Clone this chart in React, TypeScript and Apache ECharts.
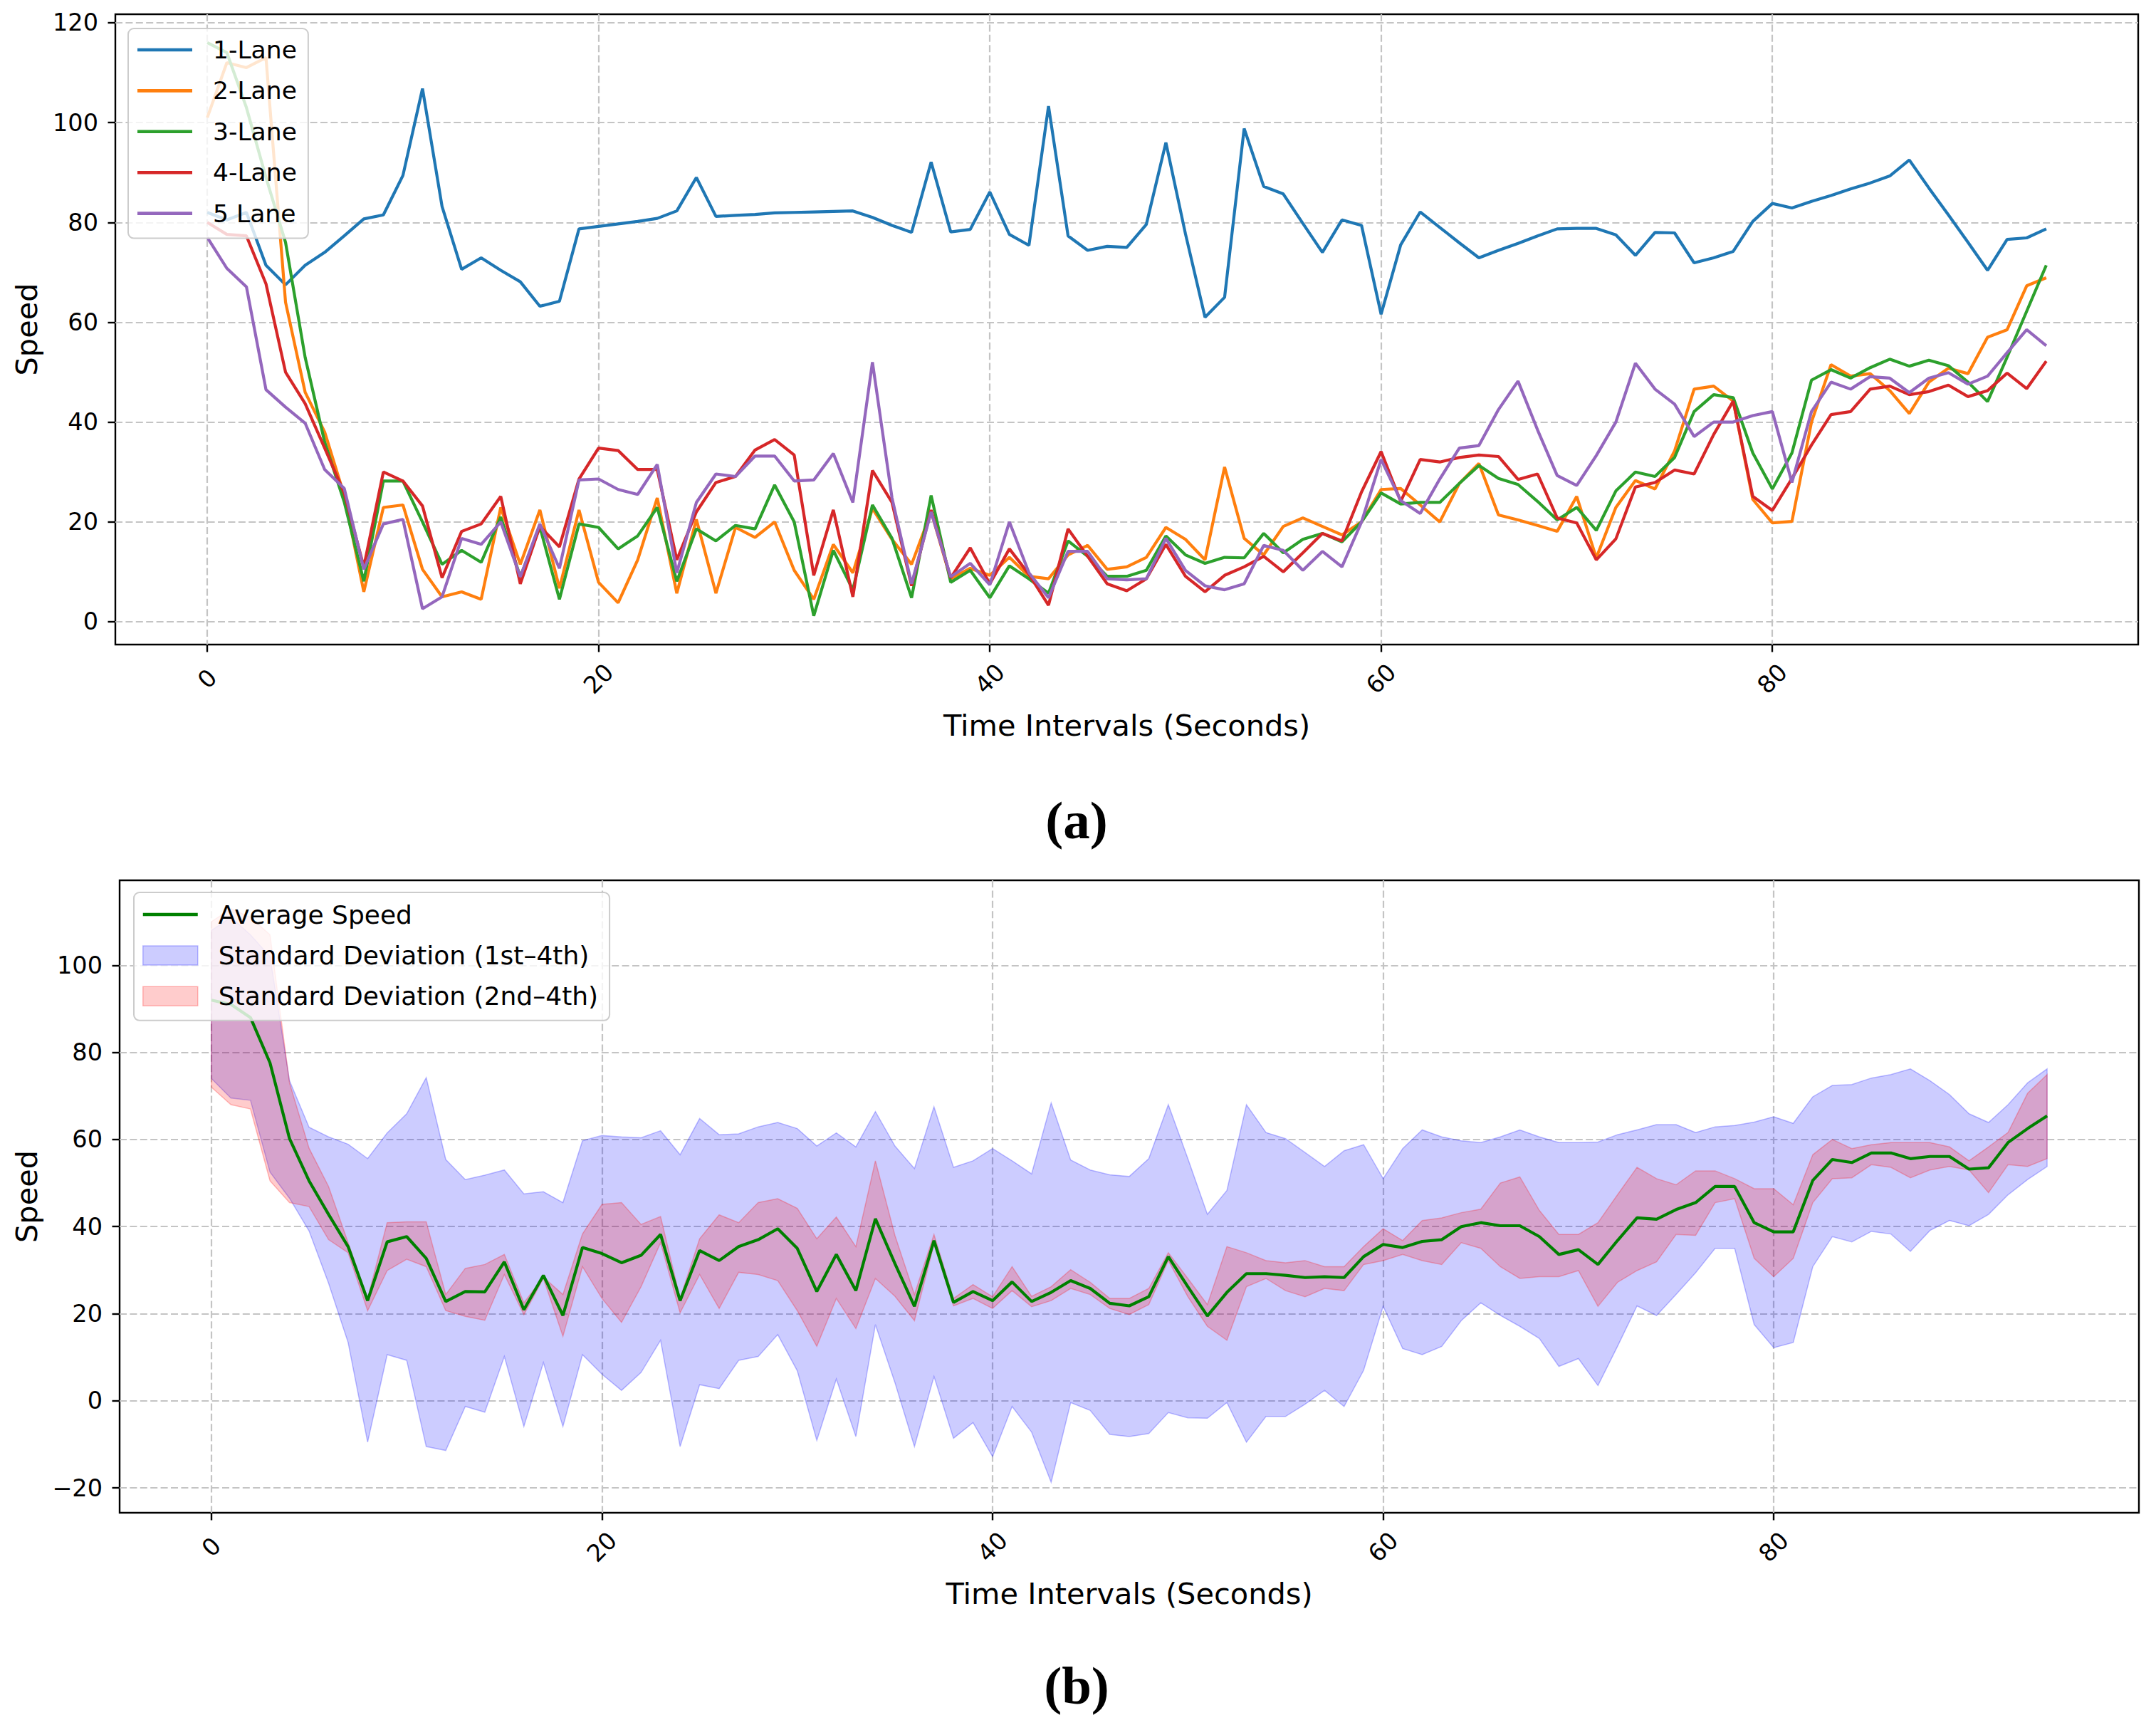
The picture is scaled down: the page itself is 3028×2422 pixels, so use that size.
import React, { useEffect, useRef } from "react";
import * as echarts from "echarts";

// lane speeds, one value per second (0..94)
const lane1 = [
  82, 80.5, 82, 71.4, 67.5, 71.4, 74, 77.3, 80.7, 81.5,
  89.4, 106.8, 83.2, 70.6, 72.9, 70.4, 68.1, 63.2, 64.2, 78.7,
  79.2, 79.7, 80.2, 80.8, 82.3, 89, 81.2, 81.4, 81.6, 81.9,
  82, 82.1, 82.2, 82.3, 81, 79.4, 78, 92.1, 78.1, 78.6,
  86.1, 77.6, 75.4, 103.3, 77.3, 74.4, 75.2, 75, 79.6, 96,
  77.7, 61, 65, 98.8, 87.2, 85.7, 79.8, 74, 80.5, 79.4,
  61.6, 75.5, 82.1, 79, 75.9, 72.9, 74.4, 75.8, 77.3, 78.7,
  78.8, 78.8, 77.5, 73.4, 78, 77.9, 71.9, 72.9, 74.2, 80.2,
  83.8, 82.9, 84.2, 85.4, 86.7, 87.9, 89.3, 92.5, 86.9, 81.5,
  76, 70.4, 76.6, 76.9, 78.7,
];
const lane2 = [
  101, 112, 111, 113, 64, 46, 38, 25.3, 6, 22.9,
  23.4, 10.5, 5, 6, 4.5, 22.9, 11.5, 22.4, 6.7, 22.4,
  7.9, 3.8, 12.4, 24.8, 5.7, 20.5, 5.7, 18.9, 16.9, 20,
  10.3, 4.5, 15.5, 9.8, 22.7, 16.5, 11.5, 22, 8.6, 10.7,
  9.3, 12.9, 9.1, 8.6, 13.4, 15.3, 10.5, 11, 12.9, 18.9,
  16.5, 12.4, 31, 16.7, 13.4, 19.1, 20.8, 19.1, 17.4, 20,
  26.5, 26.7, 23.4, 20, 27.7, 31.7, 21.4, 20.4, 19.3, 18.1,
  25.1, 12.8, 22.9, 28.3, 26.6, 34.2, 46.6, 47.2, 44.2, 24.5,
  19.8, 20.1, 40, 51.5, 49.2, 49.7, 46.3, 41.7, 48, 50.8,
  49.7, 57, 58.5, 67.3, 68.9,
];
const lane3 = [
  116, 114, 103, 89, 76, 53, 36, 24, 8.1, 28.2,
  28.2, 20, 11.5, 14.3, 11.9, 21, 9, 19, 4.5, 19.6,
  18.9, 14.6, 17.2, 22.9, 8.1, 18.6, 16.2, 19.3, 18.6, 27.4,
  20, 1.2, 14.3, 6.4, 23.4, 16.7, 4.8, 25.3, 7.9, 10.3,
  4.8, 11.2, 8.6, 5.7, 16.2, 13.1, 9.1, 9.1, 10.3, 17.2,
  13.4, 11.7, 12.9, 12.8, 17.7, 13.8, 16.5, 17.7, 16, 20,
  25.8, 23.6, 23.9, 23.9, 27.7, 31.3, 28.7, 27.5, 24.1, 20.4,
  22.9, 18.3, 26.2, 30, 29.1, 32.9, 42.1, 45.5, 44.9, 33.8,
  26.6, 33.8, 48.4, 50.5, 48.8, 50.9, 52.6, 51.2, 52.4, 51.3,
  48, 44.1, 53, 62.2, 71.4,
];
const lane4 = [
  80, 77.6, 77.3, 67.7, 50, 43.7, 34.8, 25.8, 11, 30,
  28.2, 23.2, 8.8, 18.1, 19.6, 25.1, 7.6, 19.1, 15, 28.6,
  34.8, 34.3, 30.5, 30.5, 12.4, 22, 27.9, 29.1, 34.4, 36.5,
  33.4, 9.3, 22.4, 5, 30.3, 23.9, 7.2, 22.4, 8.8, 14.8,
  7.6, 14.6, 9.5, 3.3, 18.6, 13.1, 7.6, 6.2, 8.6, 15.5,
  9.1, 6, 9.3, 11, 13.1, 10, 13.8, 17.7, 16.2, 26,
  34.1, 24.1, 32.5, 32, 32.9, 33.4, 33.1, 28.5, 29.6, 20.8,
  19.8, 12.4, 16.6, 27, 27.9, 30.4, 29.6, 37.5, 44.2, 25.1,
  22.3, 28.7, 35.4, 41.5, 42.1, 46.6, 47.2, 45.5, 46.1, 47.4,
  45.1, 46.3, 49.8, 46.7, 52.2,
];
const lane5 = [
  77, 70.8, 67.1, 46.5, 43, 39.8, 30.5, 26.7, 10.5, 19.6,
  20.5, 2.6, 5, 16.7, 15.5, 20, 9, 19.6, 10.7, 28.4,
  28.6, 26.5, 25.5, 31.5, 9.8, 23.9, 29.6, 29.1, 33.2, 33.2,
  28.2, 28.4, 33.7, 23.9, 52, 24.8, 7.6, 22, 9, 11.7,
  7.4, 20, 9.8, 4.8, 14.1, 14.1, 8.6, 8.4, 8.6, 16.7,
  10.3, 7.2, 6.4, 7.6, 15.3, 14.3, 10.3, 14.1, 11, 20,
  32.5, 24.3, 21.7, 28.6, 34.8, 35.3, 42.5, 48.2, 38.4, 29.3,
  27.3, 33.3, 40, 51.8, 46.6, 43.6, 37.1, 40, 40, 41.3,
  42.1, 27.9, 42.1, 48, 46.6, 49.1, 48.8, 45.9, 48.8, 49.9,
  47.6, 49.2, 53.9, 58.5, 55.3,
];

// panel (b)
const avgSpeed = [
  92, 91, 88, 77.6, 60.2, 50.5, 42.8, 35.4, 23, 36.5,
  37.7, 32.7, 22.8, 25.1, 25, 31.9, 20.9, 28.8, 19.6, 35.2,
  33.8, 31.7, 33.4, 38.2, 23, 34.5, 32.2, 35.4, 37, 39.5,
  35, 25.1, 33.6, 25.3, 41.8, 31.5, 21.7, 36.8, 22.6, 25.1,
  23, 27.3, 22.8, 24.9, 27.6, 25.8, 22.4, 21.8, 23.9, 33.1,
  26.2, 19.5, 24.9, 29.2, 29.2, 28.8, 28.3, 28.5, 28.3, 33.1,
  35.9, 35.2, 36.6, 37, 40, 40.9, 40.2, 40.2, 37.7, 33.6,
  34.7, 31.3, 36.8, 42, 41.7, 43.9, 45.5, 49.2, 49.2, 40.9,
  38.8, 38.8, 50.6, 55.4, 54.7, 56.9, 56.9, 55.6, 56.1, 56.1,
  53.2, 53.5, 59.3, 62.5, 65.4,
];
const std14Upper = [
  108, 111, 107, 102, 73.5, 62.8, 60.6, 58.9, 55.6, 61.5,
  65.9, 74.2, 55.4, 50.8, 51.8, 53, 47.5, 48, 45.5, 59.7,
  60.9, 60.6, 60.4, 62, 56.5, 64.8, 61.1, 61.3, 62.9, 63.9,
  62.5, 58.5, 61.5, 58.3, 66.4, 58.5, 53.3, 67.5, 53.6, 55.1,
  57.9, 55.1, 52.1, 68.4, 55.3, 53, 51.9, 51.5, 55.6, 68,
  55.6, 42.8, 48.3, 68, 61.6, 60.2, 57, 53.8, 57.4, 58.8,
  51, 57.9, 62.2, 60.6, 59.7, 59.3, 60.6, 62.2, 60.6, 59.3,
  59.3, 59.4, 61.1, 62.2, 63.4, 63.4, 61.6, 62.9, 63.2, 64,
  65.2, 63.7, 69.8, 72.4, 72.6, 74.1, 74.9, 76.2, 73.5, 70.3,
  65.9, 63.9, 68, 73, 76.2,
];
const std14Lower = [
  74, 69.5, 69, 52.5, 46.5, 39, 27, 13.4, -9.5, 10.6,
  9.3, -10.5, -11.4, -1.3, -2.6, 10.2, -5.9, 8.8, -5.9, 10.6,
  6.1, 2.4, 6.5, 13.9, -10.5, 3.7, 2.8, 9.3, 10.2, 15.2,
  6.9, -9.1, 5, -8.2, 17.5, 4.2, -10.5, 5.6, -8.6, -5,
  -12.8, -1.3, -7.2, -18.7, -0.4, -2.2, -7.7, -8.2, -7.5, -2.7,
  -3.9, -4, -0.4, -9.5, -3.6, -3.6, -0.8, 2.4, -1.3, 7,
  21.7, 12, 10.6, 12.5, 18.4, 22.5, 19.6, 17.1, 14.3, 7.9,
  9.7, 3.5, 12.5, 21.8, 19.6, 24.4, 29.4, 35, 35, 17.5,
  12.2, 13.4, 30.8, 37.7, 36.5, 38.9, 38.3, 34.3, 39.1, 41.4,
  40.2, 42.8, 47.3, 50.8, 53.8,
];
const std24Upper = [
  110, 113, 111, 107, 73, 58, 49.2, 36.3, 23.5, 40.9,
  41.1, 41.1, 24.4, 30.4, 31.3, 33.6, 22.5, 28.4, 24.4, 38.3,
  45.1, 45.5, 40.5, 42.3, 23.5, 37.2, 42.7, 40.9, 45.5, 46.4,
  44.2, 37.2, 42.2, 35.4, 55.1, 38, 24.4, 38.2, 23.5, 26.7,
  23.9, 30.8, 24, 26.2, 30.1, 27.2, 23.5, 23.5, 25.8, 34,
  28.1, 22.1, 35.4, 34, 32.2, 31.7, 32.2, 30.8, 30.8, 35.4,
  39.5, 36.8, 41.4, 42, 43.2, 44, 50, 51.4, 43.7, 38.2,
  38.2, 40.9, 47.3, 53.6, 51, 49.6, 52.8, 52.8, 51, 48.7,
  48.7, 45, 56.5, 60, 57.9, 58.8, 59.3, 59.3, 59.3, 58.3,
  55.1, 58.3, 61.6, 70.6, 74.9,
];
const std24Lower = [
  72, 68, 67, 50.5, 45.5, 44.6, 37, 34, 20.7, 29.9,
  32.5, 30.8, 20.7, 19.4, 18.5, 29, 19.8, 28.1, 14.8, 30.8,
  23.5, 18, 26.2, 36.3, 20.2, 29, 21.2, 29.5, 29, 27.6,
  20.7, 12.5, 23.5, 16.6, 28.1, 24, 18.4, 35.9, 21.8, 23.5,
  21.2, 25.3, 21.6, 23, 25.8, 24.4, 21.2, 19.8, 22.1, 32.2,
  23.9, 17.1, 13.9, 26.2, 28.1, 25.3, 23.9, 25.8, 25.3, 31.3,
  32.2, 33.6, 32.2, 31.3, 36.3, 35, 30.8, 28.1, 28.5, 28.5,
  29.9, 21.7, 27.2, 29.9, 31.9, 38.2, 38, 45.5, 46.4, 32.7,
  28.5, 32.7, 45.5, 51, 51.2, 54.2, 53.6, 51.2, 53, 53.8,
  53, 47.8, 54.2, 53.8, 55.6,
];

const laneNames = ["1-Lane", "2-Lane", "3-Lane", "4-Lane", "5 Lane"];
const laneColors = ["#1f77b4", "#ff7f0e", "#2ca02c", "#d62728", "#9467bd"];
const lanes = [lane1, lane2, lane3, lane4, lane5];
const xTicks = [0, 20, 40, 60, 80];
const yTicksTop = [0, 20, 40, 60, 80, 100, 120];
const yTicksBottom = [-20, 0, 20, 40, 60, 80, 100];

const FONT = '"DejaVu Sans", sans-serif';
const LINE_ICON = "path://M0,0H100V6H0Z";
const gridLine = { color: "#c4c4c4", width: 2.2, type: [10, 4.4] };
const minus = (v: number) => (v < 0 ? "\u2212" + Math.abs(v) : String(v));

const xAxisFor = (gridIndex: number) => ({
  type: "value",
  gridIndex,
  min: -4.7,
  max: 98.7,
  name: "Time Intervals (Seconds)",
  nameLocation: "middle",
  nameGap: 92,
  nameTextStyle: { fontFamily: FONT, fontSize: 41.5, color: "#000" },
  axisLine: { show: false, onZero: false },
  axisTick: { show: true, length: 10.5, customValues: xTicks, lineStyle: { color: "#000", width: 2.4 } },
  axisLabel: {
    customValues: xTicks,
    rotate: 45,
    align: "center",
    verticalAlign: "middle",
    margin: 48,
    fontFamily: FONT,
    fontSize: 33.5,
    color: "#000",
  },
  splitLine: { show: true, lineStyle: gridLine },
});

const yAxisFor = (gridIndex: number, min: number, max: number, ticks: number[], gap: number) => ({
  type: "value",
  gridIndex,
  min,
  max,
  name: "Speed",
  nameLocation: "middle",
  nameGap: gap,
  nameTextStyle: { fontFamily: FONT, fontSize: 41.5, color: "#000" },
  axisLine: { show: false, onZero: false },
  axisTick: { show: true, length: 10.5, customValues: ticks, lineStyle: { color: "#000", width: 2.4 } },
  axisLabel: { customValues: ticks, margin: 24, fontFamily: FONT, fontSize: 33.5, color: "#000", formatter: minus },
  splitLine: { show: true, lineStyle: gridLine },
});

const bandSeries = (name: string, lower: number[], upper: number[], fill: string, stroke: string) => ({
  type: "custom",
  name,
  xAxisIndex: 1,
  yAxisIndex: 1,
  z: 1,
  itemStyle: { color: fill },
  data: lower.map((lo, i) => [i, lo, upper[i]]),
  encode: { x: 0, y: [1, 2] },
  renderItem: (params: any, api: any) => {
    if (params.dataIndex !== 0) return null;
    const top = upper.map((v, i) => api.coord([i, v]));
    const bottom = lower.map((v, i) => api.coord([i, v])).reverse();
    return {
      type: "polygon",
      shape: { points: top.concat(bottom) },
      style: { fill, stroke, lineWidth: 1.5 },
    };
  },
});

// legends sit on their own layer, above the plotted lines
const legendBase = {
  orient: "vertical",
  selectedMode: false,
  zlevel: 1,
  z: 10,
  itemWidth: 77,
  itemHeight: 27,
  itemGap: 17.4,
  backgroundColor: "rgba(255,255,255,0.8)",
  borderColor: "#cccccc",
  borderWidth: 2,
  borderRadius: 8,
};

const App = () => {
  const ref = useRef<HTMLDivElement>(null);

  useEffect(() => {
    const chart = echarts.init(ref.current, null, { renderer: "svg" });
    const blueFill = "rgba(0,0,255,0.2)";
    const redFill = "rgba(255,0,0,0.2)";

    chart.setOption({
      animation: false,
      backgroundColor: "#fff",
      grid: [
        { left: 162, top: 20, right: 25, height: 885, show: true, borderColor: "#000", borderWidth: 2.4 },
        { left: 168, top: 1236, right: 24, height: 888, show: true, borderColor: "#000", borderWidth: 2.4 },
      ],
      xAxis: [xAxisFor(0), xAxisFor(1)],
      yAxis: [yAxisFor(0, -4.57, 121.7, yTicksTop, 104), yAxisFor(1, -25.7, 119.5, yTicksBottom, 110)],
      legend: [
        {
          ...legendBase,
          left: 180,
          top: 40,
          padding: [10, 16, 15, 13],
          textStyle: { fontFamily: FONT, fontSize: 34.5, color: "#000", lineHeight: 40, padding: [0, 0, 0, 24] },
          data: laneNames.map((name) => ({ name, icon: LINE_ICON })),
        },
        {
          ...legendBase,
          left: 188,
          top: 1253,
          padding: [11, 16, 14, 12],
          textStyle: { fontFamily: FONT, fontSize: 36, color: "#000", lineHeight: 40, padding: [0, 0, 0, 24] },
          data: [
            { name: "Average Speed", icon: LINE_ICON },
            {
              name: "Standard Deviation (1st\u20134th)",
              icon: "rect",
              itemStyle: { color: blueFill, borderColor: "rgba(0,0,255,0.25)", borderWidth: 1.5 },
            },
            {
              name: "Standard Deviation (2nd\u20134th)",
              icon: "rect",
              itemStyle: { color: redFill, borderColor: "rgba(255,0,0,0.25)", borderWidth: 1.5 },
            },
          ],
        },
      ],
      graphic: [
        {
          type: "text",
          x: 1512,
          y: 1151,
          style: { text: "(a)", font: 'bold 75px "Liberation Serif", serif', fill: "#000", align: "center", verticalAlign: "middle" },
        },
        {
          type: "text",
          x: 1512,
          y: 2366,
          style: { text: "(b)", font: 'bold 75px "Liberation Serif", serif', fill: "#000", align: "center", verticalAlign: "middle" },
        },
      ],
      series: [
        ...lanes.map((vals, k) => ({
          type: "line",
          name: laneNames[k],
          xAxisIndex: 0,
          yAxisIndex: 0,
          z: 2,
          symbol: "none",
          color: laneColors[k],
          lineStyle: { width: 4.2, color: laneColors[k] },
          data: vals.map((v, i) => [i, v]),
        })),
        bandSeries("Standard Deviation (1st\u20134th)", std14Lower, std14Upper, blueFill, "rgba(0,0,255,0.25)"),
        bandSeries("Standard Deviation (2nd\u20134th)", std24Lower, std24Upper, redFill, "rgba(255,0,0,0.25)"),
        {
          type: "line",
          name: "Average Speed",
          xAxisIndex: 1,
          yAxisIndex: 1,
          z: 3,
          symbol: "none",
          color: "#008000",
          lineStyle: { width: 4.2, color: "#008000" },
          data: avgSpeed.map((v, i) => [i, v]),
        },
      ],
    });

    return () => {
      chart.dispose();
    };
  }, []);

  return <div ref={ref} style={{ position: "absolute", left: 0, top: 0, width: 3028, height: 2422 }} />;
};

export default App;
